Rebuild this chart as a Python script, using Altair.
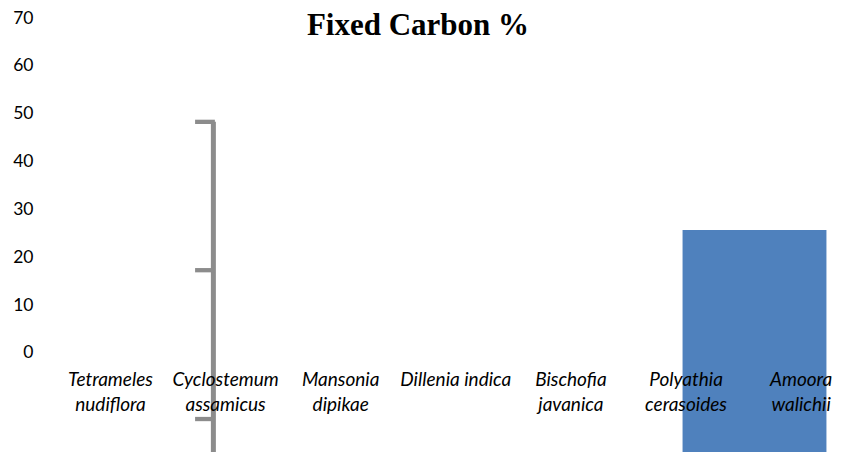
import altair as alt
import pandas as pd

# ---- data ----
categories = ["Tetrameles\nnudiflora", "Cyclostemum\nassamicus", "Mansonia\ndipikae",
              "Dillenia indica", "Bischofia\njavanica", "Polyathia\ncerasoides", "Amoora\nwalichii"]
cat_pos = [0, 1, 2, 3, 4, 5, 6]

# the single (displaced) bar, in category-index units on x
bar_top = [25.7]
bar_base = [-26.0]
bar_from = [4.97]
bar_to = [6.22]

# the grey error-bar-like shape
err_x = [0.894]
err_top = [48.3]
err_base = [-26.0]
cap_values = [48.3, 17.3, -13.8]
cap_from = [0.735, 0.735, 0.735]
cap_to = [0.907, 0.907, 0.907]

y_ticks = [0, 10, 20, 30, 40, 50, 60, 70]
title_text = ["Fixed Carbon %"]

# ---- chart ----
xs = alt.Scale(domain=[-0.508, 6.277], nice=False, zero=False)
ys = alt.Scale(domain=[-20.69, 70], nice=False, zero=False)

bar_df = pd.DataFrame({"x": bar_from, "x2": bar_to, "y": bar_top, "y2": bar_base})
err_df = pd.DataFrame({"x": err_x, "y": err_top, "y2": err_base})
cap_df = pd.DataFrame({"x": cap_from, "x2": cap_to, "y": cap_values})
lab_df = pd.DataFrame({"x": cat_pos, "label": categories})
title_df = pd.DataFrame({"t": title_text})

bars = alt.Chart(bar_df).mark_rect(color="#4F81BD", clip=True).encode(
    x=alt.X("x:Q", scale=xs, axis=None),
    x2="x2:Q",
    y=alt.Y("y:Q", scale=ys, axis=alt.Axis(values=y_ticks, title=None, domain=False, ticks=False,
                                            tickSize=0, grid=False, labelFont="Lato", labelFontSize=17.5,
                                            labelColor="#000000", labelPadding=19)),
    y2="y2:Q",
)

err_line = alt.Chart(err_df).mark_rule(color="#8C8C8C", strokeWidth=5, clip=True).encode(
    x=alt.X("x:Q", scale=xs, axis=None),
    y=alt.Y("y:Q", scale=ys),
    y2="y2:Q",
)

caps = alt.Chart(cap_df).mark_rule(color="#8C8C8C", strokeWidth=4.3, clip=True).encode(
    x=alt.X("x:Q", scale=xs, axis=None),
    x2="x2:Q",
    y=alt.Y("y:Q", scale=ys),
)

labels = alt.Chart(lab_df).mark_text(
    font="Lato", fontSize=19, fontStyle="italic", color="#000000",
    align="center", baseline="alphabetic", dy=32.7, lineBreak="\n", lineHeight=25.3,
).encode(
    x=alt.X("x:Q", scale=xs, axis=None),
    y=alt.datum(0, scale=ys),
    text="label:N",
)

title = alt.Chart(title_df).mark_text(
    font="Liberation Serif", fontSize=31, fontWeight="bold", color="#000000",
    align="center", baseline="alphabetic",
).encode(
    x=alt.value(366),
    y=alt.value(17),
    text="t:N",
)

chart = alt.layer(bars, err_line, caps, labels, title).properties(
    width=781, height=434,
    autosize=alt.AutoSizeParams(type="none"),
    padding={"left": 44, "top": 10, "right": 0, "bottom": 0},
).configure_view(stroke=None)

chart.save("out.html", embed_options={"renderer": "svg", "actions": False})
